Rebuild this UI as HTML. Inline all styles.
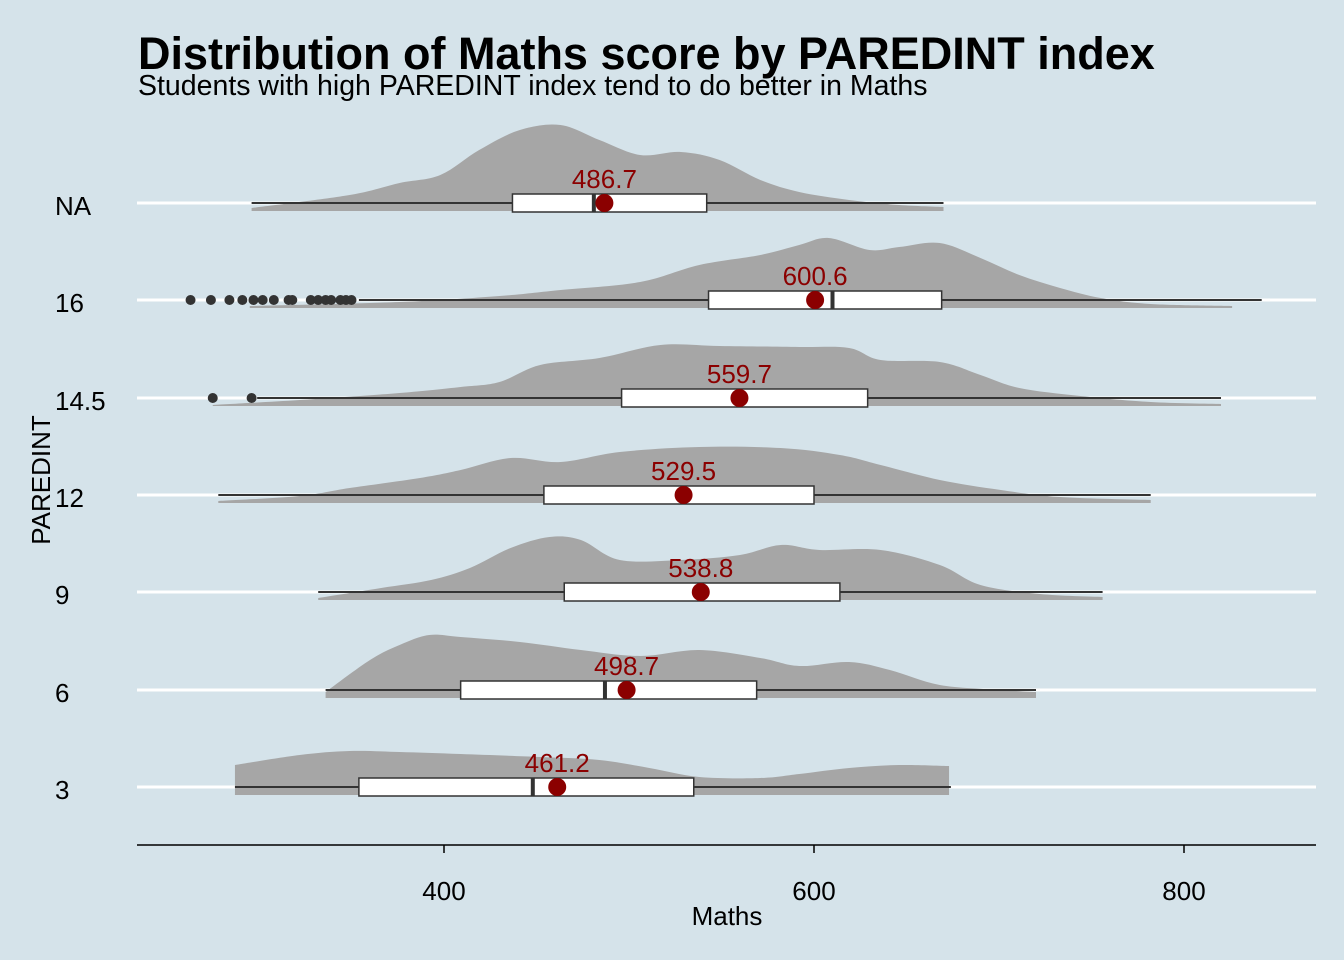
<!DOCTYPE html>
<html><head><meta charset="utf-8"><style>
body{margin:0;background:#d5e3ea;}
svg{display:block;font-family:"Liberation Sans",sans-serif;}
</style></head><body>
<svg id="chart" width="1344" height="960">
<rect width="1344" height="960" fill="#d5e3ea"/>
<text x="138" y="69" font-size="45" font-weight="bold" fill="#000">Distribution of Maths score by PAREDINT index</text>
<text x="138" y="95" font-size="28.5" fill="#000">Students with high PAREDINT index tend to do better in Maths</text>
<text transform="translate(50,480) rotate(-90)" text-anchor="middle" font-size="26">PAREDINT</text>
<text x="727" y="925" text-anchor="middle" font-size="26">Maths</text>
<g id="grid"></g><g id="marks"></g><g id="axis"></g>
</svg>
<script>
const categories=["NA","16","14.5","12","9","6","3"];
const densX=[
[296,349,376,398,419,441,463,484,506,528,549,571,592,619,646,670],
[295,376,430,463,506,538,571,592,608,630,646,668,690,711,733,755,782,826],
[275,322,376,409,430,452,484,517,549,592,619,636,668,690,711,744,782,820],
[278,322,349,387,409,436,463,495,538,582,614,636,668,701,733,782],
[332,366,393,414,436,457,474,495,528,560,582,603,636,668,690,722,756],
[336,360,376,392,409,441,474,506,538,571,592,619,641,668,701,720],
[287,322,349,376,409,452,484,511,538,571,592,619,646,673]];
const densY=[
[3,16,28,36,61,81,86,71,56,59,51,31,19,11,6,4],
[2,6,12,18,26,43,53,63,70,58,61,65,50,33,20,10,4,2],
[1,6,13,19,24,41,48,61,60,59,58,46,44,31,18,10,4,2],
[2,7,15,25,33,45,41,51,56,55,48,38,23,13,6,3],
[2,12,20,32,52,63,60,40,40,45,55,50,50,35,15,6,3],
[6,38,53,63,61,56,48,42,48,40,32,36,28,13,8,6],
[30,40,44,43,41,38,35,27,18,17,21,27,30,29]];
const whiskLo=[296,354,299,278,332,336,287];
const q1=[437,543,496,454,465,409,354];
const medians=[481,610,560,530,538,487,448];
const q3=[542,669,629,600,614,569,535];
const whiskHi=[670,842,820,782,756,720,674];
const means=[486.7,600.6,559.7,529.5,538.8,498.7,461.2];
const outliers=[[],[263,274,284,291,297,302,308,316,318,328,332,336,339,344,347,350],[275,296],[],[],[],[]];
const xTicks=[400,600,800];

const NS="http://www.w3.org/2000/svg";
const X=v=>-296+1.85*v;
const rowY=[203,300,398,495,592,690,787];
const Y=i=>rowY[i];
function mk(tag,attrs,parent){const e=document.createElementNS(NS,tag);for(const k in attrs)e.setAttribute(k,attrs[k]);parent.appendChild(e);return e;}
function smooth(pts){
  let d='';
  for(let i=0;i<pts.length-1;i++){
    const p0=pts[Math.max(0,i-1)],p1=pts[i],p2=pts[i+1],p3=pts[Math.min(pts.length-1,i+2)];
    const c1=[p1[0]+(p2[0]-p0[0])/6,p1[1]+(p2[1]-p0[1])/6];
    const c2=[p2[0]-(p3[0]-p1[0])/6,p2[1]-(p3[1]-p1[1])/6];
    d+=' C'+c1[0]+','+c1[1]+' '+c2[0]+','+c2[1]+' '+p2[0]+','+p2[1];
  }
  return d;
}
const grid=document.getElementById('grid'),marks=document.getElementById('marks'),axis=document.getElementById('axis');
categories.forEach((c,i)=>{
  const y=Y(i);
  let g=mk('line',{x1:137,x2:1316,y1:y,y2:y,stroke:'#fff','stroke-width':3},grid);
  
  
  let t=mk('text',{x:55,y:y+12,'font-size':26},axis);t.textContent=c;
  
  
  const base=y+8;
  const pts=densX[i].map((v,j)=>[X(v),base-densY[i][j]]);
  let d='M'+pts[0][0]+','+base+' L'+pts[0][0]+','+pts[0][1]+smooth(pts)+' L'+pts[pts.length-1][0]+','+base+' Z';
  let p=mk('path',{d:d,fill:'#a6a6a6'},marks);
  
  
  let w=mk('line',{x1:X(whiskLo[i]),x2:X(whiskHi[i]),y1:y,y2:y,stroke:'#333','stroke-width':2},marks);
  
  
  let b=mk('rect',{x:X(q1[i]),y:y-9,width:X(q3[i])-X(q1[i]),height:18,fill:'#fff',stroke:'#333','stroke-width':1.5},marks);
  
  
  let m=mk('line',{x1:X(medians[i]),x2:X(medians[i]),y1:y-9,y2:y+9,stroke:'#333','stroke-width':4},marks);
  
  
  outliers[i].forEach(v=>{let o=mk('circle',{cx:X(v),cy:y,r:5,fill:'#333'},marks);
    
    });
  let pt=mk('circle',{cx:X(means[i]),cy:y,r:9,fill:'#8b0000'},marks);
  
  
  let lb=mk('text',{x:X(means[i]),y:y-15,'text-anchor':'middle','font-size':26,fill:'#8b0000'},marks);
  lb.textContent=means[i].toFixed(1);
  
  
});
let ax=mk('line',{x1:137,x2:1316,y1:845,y2:845,stroke:'#000','stroke-width':1.5},axis);


xTicks.forEach(v=>{
  let tk=mk('line',{x1:X(v),x2:X(v),y1:845,y2:853,stroke:'#000','stroke-width':1.5},axis);
  
  
  let tl=mk('text',{x:X(v),y:900,'text-anchor':'middle','font-size':26},axis);tl.textContent=v;
  
  
});
</script>
</body></html>
